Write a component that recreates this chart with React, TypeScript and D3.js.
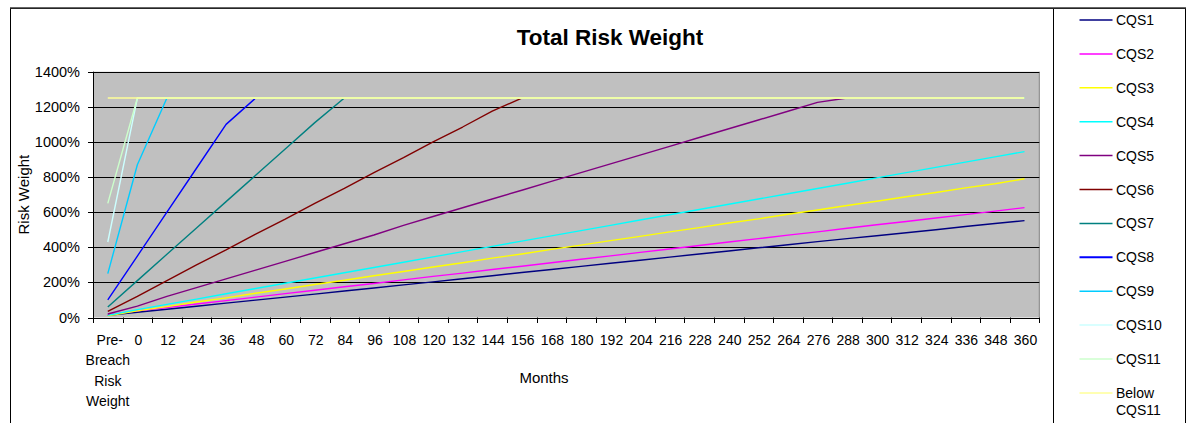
import React from "react";
import * as d3 from "d3";

const categories: string[] = ["Pre-Breach Risk Weight", "0", "12", "24", "36", "48", "60", "72", "84", "96", "108", "120", "132", "144", "156", "168", "180", "192", "204", "216", "228", "240", "252", "264", "276", "288", "300", "312", "324", "336", "348", "360"];

const yTicks: number[] = [0, 200, 400, 600, 800, 1000, 1200, 1400];

const seriesNames: string[] = ["CQS1", "CQS2", "CQS3", "CQS4", "CQS5", "CQS6", "CQS7", "CQS8", "CQS9", "CQS10", "CQS11", "Below CQS11"];
const seriesColors: string[] = ["#000080", "#FF00FF", "#FFFF00", "#00FFFF", "#800080", "#800000", "#008080", "#0000FF", "#00CCFF", "#CCFFFF", "#CCFFCC", "#FFFF99"];

const cqs1: number[] = [12, 30, 47, 64, 82, 99, 116, 133, 151, 168, 186, 203, 221, 238, 256, 273, 291, 309, 326, 344, 362, 379, 397, 414, 432, 449, 466, 483, 500, 518, 535, 552];
const cqs2: number[] = [15, 38, 57, 77, 96, 116, 136, 155, 175, 194, 214, 234, 253, 273, 292, 312, 332, 351, 371, 390, 410, 430, 449, 469, 488, 508, 528, 547, 567, 586, 606, 626];
const cqs3: number[] = [10, 38, 62, 88, 112, 138, 162, 188, 212, 238, 262, 288, 312, 338, 362, 388, 412, 438, 462, 488, 512, 538, 562, 588, 612, 638, 662, 688, 712, 738, 762, 790];
const cqs4: number[] = [12, 45, 75, 105, 135, 165, 195, 225, 255, 285, 315, 345, 375, 405, 435, 465, 495, 525, 555, 585, 615, 645, 675, 705, 735, 765, 795, 825, 855, 885, 915, 945];
const cqs5: number[] = [20, 65, 120, 170, 220, 270, 320, 370, 420, 470, 525, 575, 625, 675, 725, 775, 825, 875, 925, 975, 1025, 1075, 1125, 1175, 1225, 1250, 1250, 1250, 1250, 1250, 1250, 1250];
const cqs6: number[] = [35, 120, 210, 300, 385, 475, 560, 650, 735, 825, 910, 1000, 1085, 1175, 1250, 1250, 1250, 1250, 1250, 1250, 1250, 1250, 1250, 1250, 1250, 1250, 1250, 1250, 1250, 1250, 1250, 1250];
const cqs7: number[] = [60, 210, 360, 510, 660, 810, 960, 1110, 1250, 1250, 1250, 1250, 1250, 1250, 1250, 1250, 1250, 1250, 1250, 1250, 1250, 1250, 1250, 1250, 1250, 1250, 1250, 1250, 1250, 1250, 1250, 1250];
const cqs8: number[] = [100, 350, 600, 850, 1100, 1250, 1250, 1250, 1250, 1250, 1250, 1250, 1250, 1250, 1250, 1250, 1250, 1250, 1250, 1250, 1250, 1250, 1250, 1250, 1250, 1250, 1250, 1250, 1250, 1250, 1250, 1250];
const cqs9: number[] = [250, 870, 1250, 1250, 1250, 1250, 1250, 1250, 1250, 1250, 1250, 1250, 1250, 1250, 1250, 1250, 1250, 1250, 1250, 1250, 1250, 1250, 1250, 1250, 1250, 1250, 1250, 1250, 1250, 1250, 1250, 1250];
const cqs10: number[] = [430, 1250, 1250, 1250, 1250, 1250, 1250, 1250, 1250, 1250, 1250, 1250, 1250, 1250, 1250, 1250, 1250, 1250, 1250, 1250, 1250, 1250, 1250, 1250, 1250, 1250, 1250, 1250, 1250, 1250, 1250, 1250];
const cqs11: number[] = [650, 1250, 1250, 1250, 1250, 1250, 1250, 1250, 1250, 1250, 1250, 1250, 1250, 1250, 1250, 1250, 1250, 1250, 1250, 1250, 1250, 1250, 1250, 1250, 1250, 1250, 1250, 1250, 1250, 1250, 1250, 1250];
const belowCqs11: number[] = [1250, 1250, 1250, 1250, 1250, 1250, 1250, 1250, 1250, 1250, 1250, 1250, 1250, 1250, 1250, 1250, 1250, 1250, 1250, 1250, 1250, 1250, 1250, 1250, 1250, 1250, 1250, 1250, 1250, 1250, 1250, 1250];

const seriesValues: number[][] = [cqs1, cqs2, cqs3, cqs4, cqs5, cqs6, cqs7, cqs8, cqs9, cqs10, cqs11, belowCqs11];

const FONT = "Arial, 'Liberation Sans', sans-serif";

export default function App() {
  const W = 1196, H = 423;
  const left = 93, right = 1039.3, top = 71.7, bottom = 317.5;
  const x = d3.scaleBand<string>().domain(categories).range([left, right]).padding(0);
  const y = d3.scaleLinear().domain([0, 1400]).range([bottom, top]);
  const cx = (c: string) => (x(c) as number) + x.bandwidth() / 2;

  const line = d3.line<number>()
    .x((_, i) => cx(categories[i]))
    .y((d) => y(d));

  const boundaries = categories.map((c) => x(c) as number).concat([right]);

  const legendX1 = 1079.5, legendX2 = 1112.5, legendTextX = 1116;
  const legendY0 = 20, legendStep = 33.9;

  return (
    <div style={{ position: "fixed", left: 0, top: 0 }}>
      <svg width={W} height={H} style={{ display: "block", background: "#fff" }}>
        {/* chart area border */}
        <rect x={10.5} y={8.5} width={1043} height={430} fill="#fff" stroke="#000" strokeWidth={1} />
        {/* legend box */}
        <rect x={1053.5} y={8.5} width={132} height={430} fill="#fff" stroke="#000" strokeWidth={1} />
        <line x1={10} x2={1186} y1={8} y2={8} stroke="#333" strokeWidth={1.5} />

        {/* title */}
        <text x={610} y={45} textAnchor="middle" fontFamily={FONT} fontWeight="bold" fontSize={22.5} fill="#000">Total Risk Weight</text>

        {/* plot area */}
        <rect x={left} y={top} width={right - left} height={bottom - top} fill="#C0C0C0" />
        <line x1={right} x2={right} y1={top} y2={bottom} stroke="#808080" strokeWidth={1} />
        {yTicks.map((t) => (
          <line key={"g" + t} x1={left} x2={right} y1={Math.round(y(t)) + 0.5} y2={Math.round(y(t)) + 0.5} stroke="#000" strokeWidth={1} />
        ))}

        {/* series */}
        {seriesValues.map((vals, si) => (
          <path key={seriesNames[si]} d={line(vals) || ""} fill="none" stroke={seriesColors[si]} strokeWidth={1.4} strokeLinejoin="round" />
        ))}

        {/* axes */}
        <line x1={left + 0.5} x2={left + 0.5} y1={top} y2={bottom + 0.5} stroke="#000" strokeWidth={1} />
        <line x1={left} x2={right} y1={Math.round(bottom) + 0.5} y2={Math.round(bottom) + 0.5} stroke="#000" strokeWidth={1} />
        {yTicks.map((t) => (
          <g key={"yt" + t}>
            <line x1={88} x2={left} y1={Math.round(y(t)) + 0.5} y2={Math.round(y(t)) + 0.5} stroke="#000" strokeWidth={1} />
            <text x={80} y={y(t) + 5} textAnchor="end" fontFamily={FONT} fontSize={14.5} fill="#000">{t + "%"}</text>
          </g>
        ))}
        {boundaries.map((b, i) => (
          <line key={"xt" + i} x1={Math.round(b) + 0.5} x2={Math.round(b) + 0.5} y1={bottom} y2={bottom + 5.5} stroke="#000" strokeWidth={1} />
        ))}
        {categories.map((c, i) =>
          i === 0 ? (
            <text key={"xl" + i} textAnchor="middle" fontFamily={FONT} fontSize={14} fill="#000">
              {["Pre-", "Breach", "Risk", "Weight"].map((w, j) => (
                <tspan key={j} x={cx(c) + (j === 0 ? 2 : 0)} y={345 + j * 20.3}>{w}</tspan>
              ))}
            </text>
          ) : (
            <text key={"xl" + i} x={cx(c) + 1} y={345} textAnchor="middle" fontFamily={FONT} fontSize={14} fill="#000">{c}</text>
          )
        )}

        {/* axis titles */}
        <text x={544} y={383} textAnchor="middle" fontFamily={FONT} fontSize={15} fill="#000">Months</text>
        <text transform={`translate(29,${(top + bottom) / 2}) rotate(-90)`} textAnchor="middle" fontFamily={FONT} fontSize={15} fill="#000">Risk Weight</text>

        {/* legend */}
        {seriesNames.map((n, i) => {
          const ly = legendY0 + i * legendStep;
          return (
            <g key={"lg" + n}>
              <line x1={legendX1} x2={legendX2} y1={ly} y2={ly} stroke={seriesColors[i]} strokeWidth={i === 7 ? 2 : 1.5} />
              {n === "Below CQS11" ? (
                <text fontFamily={FONT} fontSize={14} fill="#000">
                  <tspan x={legendTextX} y={ly + 5}>Below</tspan>
                  <tspan x={legendTextX} y={ly + 22}>CQS11</tspan>
                </text>
              ) : (
                <text x={legendTextX} y={ly + 5} fontFamily={FONT} fontSize={14} fill="#000">{n}</text>
              )}
            </g>
          );
        })}
      </svg>
    </div>
  );
}
